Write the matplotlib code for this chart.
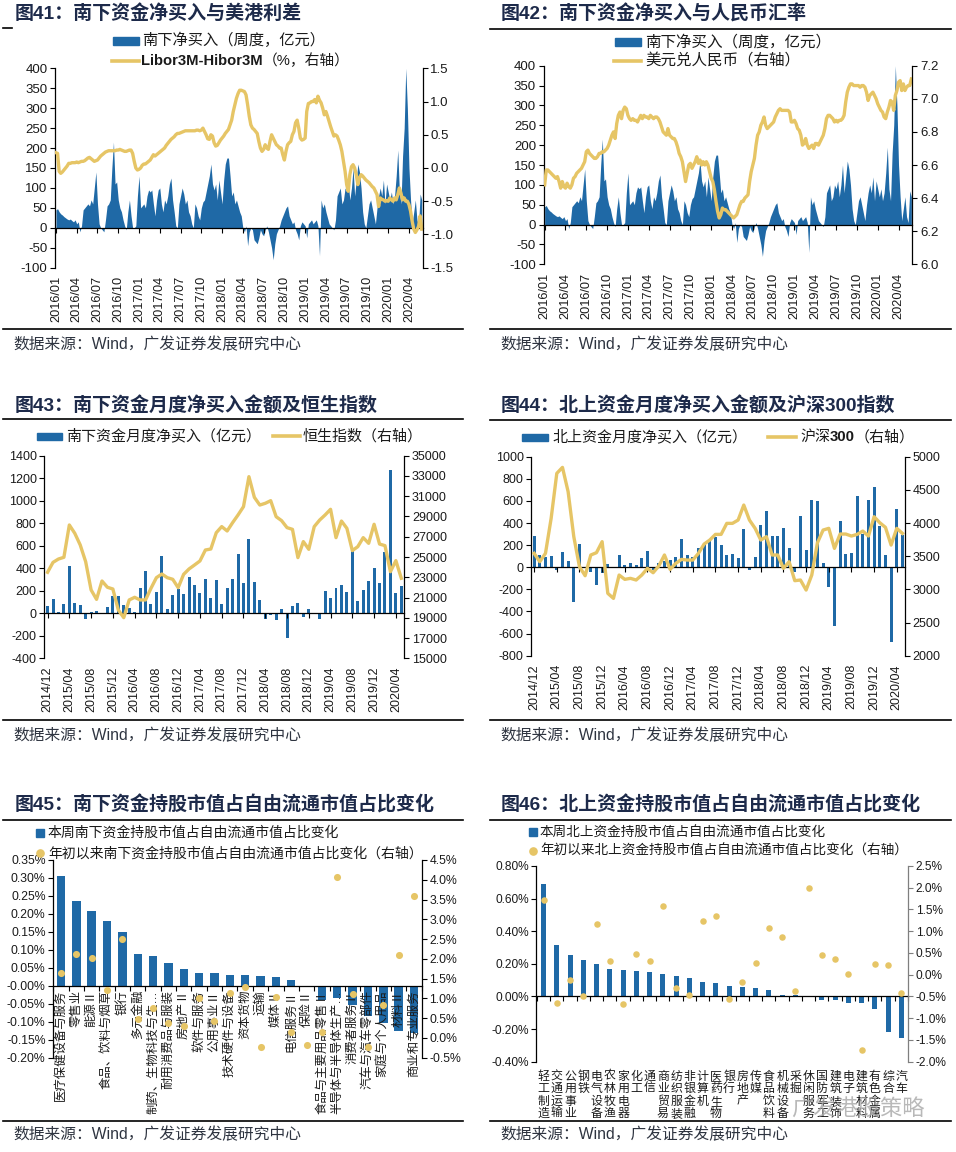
import numpy as np
import matplotlib
matplotlib.use("Agg")
import matplotlib.pyplot as plt
from matplotlib.lines import Line2D
from matplotlib.patches import Rectangle
from matplotlib.ticker import FormatStrFormatter, FuncFormatter

plt.rcParams["font.family"] = ["Liberation Sans", "Noto Sans CJK SC"]
plt.rcParams["axes.unicode_minus"] = False

W, H = 956, 1152
BLUE = "#1f69a6"
GOLD = "#e6c566"
NAVY = "#1d2a4a"
INK = "#1a1a1a"

# ---------------- data ----------------
# weekly southbound net buy (100m CNY), 2016/01 .. 2020/06
south_weekly = [
    45, 48, 40, 35, 32, 28, 25, 22, 20, 22, 18, 15, 20,
    10, 15, -10, 5, 45, 50, 55, 60, 55, 70, 60, 100, 140,
    60, 10, 0, -5, -10, 20, 55, 60, 70, 150, 215, 110, 115,
    70, 50, 40, 20, 5, -5, 40, 70, 30, 0, 0, 5, 80,
    130, 50, 55, 60, 50, 80, 95, 90, 95, 60, 30, 70, 95,
    100, 60, 40, 70, 60, 80, 110, 125, 70, 40, 5, 0, 60,
    80, 100, 85, 60, 70, 40, 30, 10, 0, 60, 50, 30, 20,
    50, 65, 70, 90, 110, 130, 160, 110, 95, 110, 70, 120, 90,
    60, 120, 160, 175, 175, 130, 80, 90, 60, 70, 55, 40, 30,
    0, -10, 5, -45, -10, 0, -5, -30, -35, -40, -25, -5, -15,
    -20, -5, 5, -10, -30, -50, -80, -40, -15, -5, 5, 20, 30,
    40, 50, 55, 30, 20, 10, 15, -5, -15, -30, 5, 15, 10,
    5, -25, 10, 15, 20, 10, 15, 20, 5, -70, 70, 50, 60,
    40, 25, 10, 5, 0, -5, 20, 80, 90, 100, 60, 70, 100,
    90, 110, 70, 100, 150, 80, 120, 160, 140, 100, 40, 10, 0,
    30, 60, 70, 50, 30, 10, 50, 80, 100, 80, 120, 60, 110,
    90, 70, 90, 60, 80, 130, 195, 90, 60, 180, 250, 400, 300,
    150, 70, 10, 40, 70, 20, 5, 85, 70,
]
# Libor3M - Hibor3M spread (%), weekly
libor_hibor = [
    0.23, 0.22, -0.05, -0.08, -0.06, -0.03, 0.00, 0.03, 0.07, 0.07, 0.08, 0.08, 0.08,
    0.09, 0.08, 0.09, 0.10, 0.10, 0.11, 0.13, 0.15, 0.16, 0.14, 0.12, 0.10, 0.11,
    0.12, 0.15, 0.18, 0.20, 0.22, 0.24, 0.25, 0.26, 0.26, 0.26, 0.26, 0.26, 0.27,
    0.27, 0.28, 0.27, 0.26, 0.25, 0.25, 0.26, 0.27, 0.27, 0.22, 0.10, 0.00, -0.03,
    -0.02, 0.00, 0.04, 0.06, 0.06, 0.08, 0.10, 0.12, 0.16, 0.20, 0.18, 0.20, 0.22,
    0.24, 0.26, 0.28, 0.30, 0.34, 0.37, 0.40, 0.43, 0.45, 0.47, 0.50, 0.52, 0.52,
    0.53, 0.54, 0.55, 0.56, 0.56, 0.56, 0.56, 0.56, 0.56, 0.56, 0.57, 0.57, 0.56,
    0.57, 0.60, 0.55, 0.50, 0.44, 0.43, 0.50, 0.48, 0.38, 0.33, 0.34, 0.38, 0.42,
    0.45, 0.48, 0.52, 0.55, 0.58, 0.65, 0.72, 0.85, 0.95, 1.05, 1.12, 1.17, 1.17,
    1.16, 1.15, 1.10, 0.95, 0.78, 0.65, 0.60, 0.58, 0.55, 0.52, 0.40, 0.30, 0.25,
    0.28, 0.35, 0.30, 0.28, 0.40, 0.50, 0.45, 0.40, 0.35, 0.33, 0.30, 0.30, 0.20,
    0.12, 0.25, 0.35, 0.38, 0.40, 0.50, 0.55, 0.68, 0.72, 0.60, 0.45, 0.42, 0.43,
    0.45, 0.85, 0.97, 0.98, 1.00, 1.00, 1.03, 0.98, 1.08, 1.02, 0.98, 0.90, 0.80,
    0.85, 0.78, 0.70, 0.62, 0.55, 0.48, 0.50, 0.48, 0.42, 0.35, 0.25, 0.10, -0.05,
    -0.25, -0.35, -0.10, 0.02, 0.05, 0.00, -0.10, -0.25, -0.15, -0.10, -0.12, -0.15, -0.18,
    -0.20, -0.22, -0.25, -0.28, -0.30, -0.35, -0.40, -0.58, -0.45, -0.47, -0.48, -0.50, -0.49,
    -0.50, -0.45, -0.48, -0.50, -0.45, -0.48, -0.40, -0.30, -0.38, -0.48, -0.45, -0.50, -0.50,
    -0.55, -0.65, -0.80, -0.92, -0.97, -0.93, -0.88, -0.72, -0.92,
]
# USD/CNY, weekly
usd_cny = [
    6.48, 6.57, 6.57, 6.56, 6.55, 6.54, 6.53, 6.52, 6.53, 6.50, 6.46, 6.50, 6.47,
    6.46, 6.49, 6.47, 6.46, 6.48, 6.52, 6.53, 6.55, 6.56, 6.57, 6.58, 6.60, 6.62,
    6.68, 6.69, 6.67, 6.66, 6.65, 6.64, 6.64, 6.65, 6.67, 6.67, 6.68, 6.68, 6.69,
    6.70, 6.72, 6.75, 6.78, 6.80, 6.76, 6.85, 6.90, 6.92, 6.88, 6.93, 6.95, 6.94,
    6.90, 6.88, 6.87, 6.88, 6.87, 6.87, 6.86, 6.88, 6.90, 6.88, 6.90, 6.89, 6.89,
    6.88, 6.90, 6.89, 6.88, 6.89, 6.89, 6.88, 6.86, 6.83, 6.80, 6.79, 6.78, 6.82,
    6.78, 6.77, 6.76, 6.76, 6.74, 6.71, 6.67, 6.65, 6.62, 6.56, 6.50, 6.55, 6.60,
    6.61, 6.58, 6.60, 6.62, 6.65, 6.61, 6.63, 6.60, 6.62, 6.60, 6.62, 6.60, 6.56,
    6.52, 6.50, 6.45, 6.38, 6.32, 6.28, 6.30, 6.34, 6.33, 6.33, 6.32, 6.31, 6.30,
    6.29, 6.28, 6.29, 6.30, 6.33, 6.36, 6.38, 6.38, 6.40, 6.41, 6.42, 6.50, 6.56,
    6.60, 6.64, 6.72, 6.78, 6.80, 6.84, 6.86, 6.89, 6.84, 6.82, 6.83, 6.84, 6.85,
    6.86, 6.89, 6.91, 6.93, 6.94, 6.93, 6.93, 6.93, 6.93, 6.93, 6.92, 6.86, 6.86,
    6.87, 6.85, 6.82, 6.81, 6.78, 6.72, 6.73, 6.76, 6.72, 6.70, 6.71, 6.72, 6.70,
    6.73, 6.73, 6.72, 6.74, 6.76, 6.78, 6.82, 6.88, 6.90, 6.90, 6.89, 6.88, 6.86,
    6.87, 6.86, 6.87, 6.87, 6.88, 6.90, 6.98, 7.04, 7.07, 7.09, 7.09, 7.08, 7.08,
    7.08, 7.08, 7.07, 7.08, 7.08, 7.07, 7.04, 6.99, 7.02, 7.03, 7.04, 7.02, 7.00,
    6.97, 6.95, 6.93, 6.92, 6.89, 6.88, 6.92, 6.95, 6.99, 6.98, 6.93, 7.02, 7.05,
    7.10, 7.11, 7.05, 7.09, 7.05, 7.07, 7.08, 7.08, 7.12,
]
week_labels = ["2016/01", "2016/04", "2016/07", "2016/10", "2017/01", "2017/04",
               "2017/07", "2017/10", "2018/01", "2018/04", "2018/07", "2018/10",
               "2019/01", "2019/04", "2019/07", "2019/10", "2020/01", "2020/04"]

# monthly, 2014/12 .. 2020/05
south_monthly = [65, 125, 15, 86, 420, 95, 71, -47, 15, 24,
                 0, 59, 154, 154, 71, 50, 15, 222, 376, 86,
                 193, 510, 36, 163, 219, 175, 326, 252, 184, 302,
                 139, 293, 80, 228, 302, 524, 273, 664, 281, 116,
                 -47, -15, -62, 41, -216, 65, 95, -30, 36, -9,
                 -53, 199, 133, 222, 249, 190, 554, 107, 204, 287,
                 400, 273, 545, 1271, 178, 243]
hsi = [23490, 24470, 24800, 24970, 28160, 27340, 26190, 24540, 21750, 20820,
       22630, 22010, 21840, 19770, 19010, 20760, 21020, 20760, 20760, 21910,
       22960, 23320, 22960, 22800, 21970, 23290, 23820, 24210, 24610, 25690,
       25790, 27400, 28000, 27570, 28390, 29150, 29970, 32930, 30890, 30130,
       30300, 30560, 28980, 28590, 27900, 27730, 24940, 26520, 25760, 28000,
       28650, 29150, 29710, 26910, 28550, 27830, 25630, 26020, 26910, 26350,
       28230, 26280, 26120, 23550, 24640, 22900]
north_monthly = [281, 112, 95, 100, -25, 139, 54, -311, 214, -10,
                 -45, -163, -51, 33, 5, 109, 24, 36, 21, 84,
                 151, -21, 39, 54, 69, 97, 259, 109, 94, 178,
                 220, 235, 278, 205, 112, 124, 84, 350, -27, 94,
                 383, 510, 287, 287, 353, 178, -40, 468, 160, 606,
                 603, 39, -181, -534, 422, 121, 133, 648, 300, 606,
                 730, 377, 112, -679, 531, 296]
csi300 = [3543, 3417, 3543, 4070, 4749, 4839, 4472, 3794, 3342, 3206,
          3518, 3553, 3719, 2940, 2864, 3216, 3151, 3166, 3141, 3216,
          3317, 3251, 3352, 3518, 3301, 3392, 3452, 3442, 3442, 3543,
          3683, 3744, 3829, 3829, 3995, 3995, 4045, 4271, 4045, 3920,
          3744, 3794, 3518, 3518, 3317, 3417, 3131, 3141, 2990, 3216,
          3703, 3894, 3920, 3618, 3834, 3834, 3804, 3829, 3879, 3804,
          4095, 4005, 3935, 3668, 3920, 3844]
month_labels = ["2014/12", "2015/04", "2015/08", "2015/12", "2016/04", "2016/08",
                "2016/12", "2017/04", "2017/08", "2017/12", "2018/04", "2018/08",
                "2018/12", "2019/04", "2019/08", "2019/12", "2020/04"]

# HK industries: southbound holding share change (%)
hk_inds = ["医疗保健设备与服务", "零售业", "能源Ⅱ", "食品、饮料与烟草", "银行", "多元金融",
           "制药、生物科技与生…", "耐用消费品与服装", "房地产Ⅱ", "软件与服务", "公用事业Ⅱ",
           "技术硬件与设备", "资本货物", "运输", "媒体Ⅱ", "电信服务Ⅱ", "保险Ⅱ",
           "食品与主要用品零售Ⅱ", "半导体与半导体生产…", "消费者服务Ⅱ", "汽车与汽车零部件",
           "家庭与个人用品", "材料Ⅱ", "商业和专业服务"]
hk_week = [0.306, 0.235, 0.208, 0.180, 0.149, 0.088, 0.082, 0.064, 0.046, 0.037, 0.037,
           0.030, 0.029, 0.027, 0.025, 0.016, -0.003, -0.039, -0.034, -0.053, -0.083,
           -0.104, -0.125, -0.131]
hk_ytd = [1.64, 2.12, 2.01, 1.21, 2.49, 0.49, 0.76, 0.38, 0.30, 1.02, 0.42, 1.14, 1.30,
          -0.22, 1.04, 0.15, -0.18, 0.15, 4.08, 1.11, -0.24, 0.84, 2.10, 3.58]

# A-share industries: northbound holding share change (%)
a_inds = ["轻工制造", "交通运输", "公用事业", "钢铁", "电气设备", "农林牧渔", "家用电器",
          "化工", "通信", "商业贸易", "纺织服装", "非银金融", "计算机", "医药生物", "银行",
          "房地产", "传媒", "食品饮料", "机械设备", "采掘", "休闲服务", "国防军工",
          "建筑装饰", "电子", "建筑材料", "有色金属", "综合", "汽车"]
a_week = [0.692, 0.317, 0.254, 0.222, 0.199, 0.167, 0.165, 0.159, 0.153, 0.138, 0.126,
          0.116, 0.088, 0.083, 0.067, 0.057, 0.051, 0.041, 0.012, 0.006, 0.005, -0.020,
          -0.020, -0.039, -0.039, -0.075, -0.220, -0.255]
a_ytd = [1.72, -0.64, -0.11, -0.48, 1.17, 0.32, -0.68, 0.48, 0.32, 1.59, -0.30, -0.46,
         1.23, 1.34, -0.55, -0.17, 0.26, 1.08, 0.86, -0.375, 1.99, 0.45, 0.37, 0.02,
         -1.74, 0.24, 0.23, -0.41]

# ---------------- helpers ----------------
fig = plt.figure(figsize=(W / 100, H / 100), dpi=100)
REND = fig.canvas.get_renderer()


def box(l, t, r, b):
    return fig.add_axes([l / W, 1 - b / H, (r - l) / W, (b - t) / H])


def hline(x0, x1, y, lw=1.2, color="black"):
    fig.add_artist(Line2D([x0 / W, x1 / W], [1 - y / H, 1 - y / H], color=color, lw=lw,
                          transform=fig.transFigure))


def runs(x, y, parts, size, color=INK):
    # consecutive pieces of text with their own weight
    for s, wt in parts:
        t = fig.text(x / W, 1 - y / H, s, fontsize=size, fontweight=wt, color=color,
                     ha="left", va="center")
        x += t.get_window_extent(REND).width


def key_bar(x0, x1, y, h=8):
    fig.add_artist(Rectangle((x0 / W, 1 - (y + h / 2) / H), (x1 - x0) / W, h / H,
                             color=BLUE, transform=fig.transFigure))


def key_line(x0, x1, y):
    fig.add_artist(Line2D([x0 / W, x1 / W], [1 - y / H] * 2, color=GOLD, lw=2.6,
                          transform=fig.transFigure))


def key_marker(x, y, marker, color, ms):
    fig.add_artist(Line2D([x / W], [1 - y / H], marker=marker, color=color, ms=ms, lw=0,
                          transform=fig.transFigure))


def frame(left, y_title, y_top, y_bot, y_src, title, short_top=False):
    x0, x1 = (3, 463) if left else (490, 951)
    tx = 15 if left else 501
    fig.text(tx / W, 1 - y_title / H, title, fontsize=13.7, fontweight="bold", color=NAVY,
             ha="left", va="center")
    if short_top:
        hline(3, 12, y_top)
    else:
        hline(x0, x1, y_top)
    hline(x0, x1, y_bot)
    sx = 13 if left else 500
    runs(sx, y_src, [("数据来源：Wind，广发证券发展研究中心", "normal")], 11.3, color="#2e3440")


def dress(ax, ax2, size, right_color="black"):
    for s in ("top", "right"):
        ax.spines[s].set_visible(False)
    for s in ("top", "left", "bottom"):
        ax2.spines[s].set_visible(False)
    ax2.spines["right"].set_color(right_color)
    ax.spines["bottom"].set_position(("data", 0))
    for a in (ax, ax2):
        a.set_facecolor("none")
        a.tick_params(axis="y", direction="out", length=3.5, width=0.8, labelsize=size,
                      pad=2, labelcolor=INK)
    ax2.tick_params(axis="y", color=right_color)
    ax.spines["left"].set_linewidth(0.9)
    ax.spines["bottom"].set_linewidth(0.9)
    ax2.spines["right"].set_linewidth(0.9)


def low_labels(ax, ticks, labels, size, pad, rot=90, **kw):
    sec = ax.secondary_xaxis("bottom")
    sec.set_xticks(ticks, labels=labels, rotation=rot, fontsize=size, color=INK, **kw)
    sec.tick_params(length=0, pad=pad)
    sec.spines["bottom"].set_visible(False)
    return sec


# ---------------- 图41 ----------------
wk = np.arange(len(south_weekly))
wk_ticks = np.arange(len(week_labels)) * 13

frame(True, 14, 28, 329, 345, "图41：南下资金净买入与美港利差", short_top=True)
ax = box(55, 68.3, 422.7, 267.7)
ax.fill_between(wk, 0, south_weekly, color=BLUE, lw=0)
ax.set_xlim(-0.6, len(wk) - 0.4)
ax.set_ylim(-100, 400)
ax.set_yticks(np.arange(-100, 401, 50))
ax2 = ax.twinx()
ax2.plot(wk, libor_hibor, color=GOLD, lw=2.4, solid_joinstyle="round")
ax2.set_ylim(-1.5, 1.5)
ax2.set_yticks(np.arange(-1.5, 1.51, 0.5))
ax2.yaxis.set_major_formatter(FormatStrFormatter("%.1f"))
dress(ax, ax2, 9.5)
ax.set_xticks(wk_ticks)
ax.tick_params(axis="x", direction="out", length=3.5, width=0.8, labelbottom=False)
low_labels(ax, wk_ticks, week_labels, 9.2, 6)
key_bar(113, 139, 40.5)
runs(142, 40.5, [("南下净买入（周度，亿元）", "normal")], 11)
key_line(112, 139, 61)
runs(141, 61, [("Libor3M-Hibor3M", "bold"), ("（%，右轴）", "normal")], 10.6)

# ---------------- 图42 ----------------
frame(False, 14, 28.7, 329, 345, "图42：南下资金净买入与人民币汇率")
ax = box(543.7, 65.7, 912.3, 264.3)
ax.fill_between(wk, 0, south_weekly, color=BLUE, lw=0)
ax.set_xlim(-0.6, len(wk) - 0.4)
ax.set_ylim(-100, 400)
ax.set_yticks(np.arange(-100, 401, 50))
ax2 = ax.twinx()
ax2.plot(wk, usd_cny, color=GOLD, lw=2.4, solid_joinstyle="round")
ax2.set_ylim(6.0, 7.2)
ax2.set_yticks(np.arange(6.0, 7.21, 0.2))
ax2.yaxis.set_major_formatter(FormatStrFormatter("%.1f"))
dress(ax, ax2, 9.5)
ax.set_xticks(wk_ticks)
ax.tick_params(axis="x", direction="out", length=3.5, width=0.8, labelbottom=False)
low_labels(ax, wk_ticks, week_labels, 9.2, 6)
key_bar(615, 641, 42)
runs(645, 42, [("南下净买入（周度，亿元）", "normal")], 11.2)
key_line(614, 641, 61)
runs(645, 61, [("美元兑人民币（右轴）", "normal")], 11.2)

# ---------------- 图43 ----------------
mo = np.arange(len(south_monthly))
mo_ticks = np.arange(len(month_labels)) * 4

frame(True, 405, 419.3, 720, 736, "图43：南下资金月度净买入金额及恒生指数")
ax = box(44.3, 455.7, 404.3, 658.3)
ax.bar(mo, south_monthly, width=0.55, color=BLUE, lw=0)
ax.set_xlim(-0.6, len(mo) - 0.45)
ax.set_ylim(-400, 1400)
ax.set_yticks(np.arange(-400, 1401, 200))
ax2 = ax.twinx()
ax2.plot(mo, hsi, color=GOLD, lw=2.4, solid_joinstyle="round")
ax2.set_ylim(15000, 35000)
ax2.set_yticks(np.arange(15000, 35001, 2000))
dress(ax, ax2, 9)
ax.set_xticks(mo_ticks)
ax.tick_params(axis="x", direction="out", length=3.5, width=0.8, labelbottom=False)
low_labels(ax, mo_ticks, month_labels, 9, 6)
key_bar(37, 62, 436, h=7)
runs(66, 436, [("南下资金月度净买入（亿元）", "normal")], 10.8)
key_line(273, 300, 436)
runs(303, 436, [("恒生指数（右轴）", "normal")], 10.8)

# ---------------- 图44 ----------------
frame(False, 405, 419.7, 720, 736, "图44：北上资金月度净买入金额及沪深300指数")
ax = box(531.3, 456.7, 904.7, 655.7)
ax.bar(mo, north_monthly, width=0.55, color=BLUE, lw=0)
ax.set_xlim(-0.5, len(mo) - 0.6)
ax.set_ylim(-800, 1000)
ax.set_yticks(np.arange(-800, 1001, 200))
ax2 = ax.twinx()
ax2.plot(mo, csi300, color=GOLD, lw=2.4, solid_joinstyle="round")
ax2.set_ylim(2000, 5000)
ax2.set_yticks(np.arange(2000, 5001, 500))
dress(ax, ax2, 9)
ax.set_xticks(mo_ticks)
ax.tick_params(axis="x", direction="out", length=3.5, width=0.8, labelbottom=False)
low_labels(ax, mo_ticks, month_labels, 9, 6)
key_bar(522, 548, 437, h=7)
runs(552, 437, [("北上资金月度净买入（亿元）", "normal")], 10.8)
key_line(768, 796, 437)
runs(800, 437, [("沪深", "normal"), ("300", "bold"), ("（右轴）", "normal")], 10.8)

# ---------------- 图45 ----------------
pct2 = FuncFormatter(lambda v, p: f"{v:.2f}%")
pct1 = FuncFormatter(lambda v, p: f"{v:.1f}%")

frame(True, 805, 820, 1121, 1135, "图45：南下资金持股市值占自由流通市值占比变化")
hx = np.arange(len(hk_inds))
ax = box(53.3, 860, 421.7, 1057.7)
ax.bar(hx, hk_week, width=0.55, color=BLUE, lw=0)
ax.set_xlim(-0.5, len(hx) - 0.5)
ax.set_ylim(-0.20, 0.35)
ax.set_yticks(np.arange(-0.20, 0.351, 0.05))
ax.yaxis.set_major_formatter(pct2)
ax2 = ax.twinx()
ax2.scatter(hx, hk_ytd, s=26, color=GOLD, lw=0, zorder=3)
ax2.set_ylim(-0.5, 4.5)
ax2.set_yticks(np.arange(-0.5, 4.51, 0.5))
ax2.yaxis.set_major_formatter(pct1)
dress(ax, ax2, 8.8)
ax.set_xticks(hx, labels=hk_inds, rotation=90, fontsize=8.9, color=INK)
ax.set_xticks(np.arange(-0.5, len(hx)), minor=True)
ax.tick_params(axis="x", which="major", length=0, pad=3)
ax.tick_params(axis="x", which="minor", direction="out", length=3.5, width=0.8)
key_marker(40, 832.7, "s", BLUE, 5.2)
runs(48, 832.7, [("本周南下资金持股市值占自由流通市值占比变化", "normal")], 10)
key_marker(40, 853.3, "o", GOLD, 5.2)
runs(48, 853.3, [("年初以来南下资金持股市值占自由流通市值占比变化（右轴）", "normal")], 10)

# ---------------- 图46 ----------------
frame(False, 805, 820, 1121, 1135, "图46：北上资金持股市值占自由流通市值占比变化")
axx = np.arange(len(a_inds))
ax = box(536.3, 866, 908, 1061.7)
ax.bar(axx, a_week, width=0.38, color=BLUE, lw=0)
ax.set_xlim(-0.55, len(axx) - 0.5)
ax.set_ylim(-0.40, 0.80)
ax.set_yticks(np.arange(-0.40, 0.801, 0.20))
ax.yaxis.set_major_formatter(pct2)
ax2 = ax.twinx()
ax2.scatter(axx, a_ytd, s=22, color=GOLD, lw=0, zorder=3)
ax2.set_ylim(-2.0, 2.5)
ax2.set_yticks(np.arange(-2.0, 2.51, 0.5))
ax2.yaxis.set_major_formatter(pct1)
dress(ax, ax2, 8.6, right_color="#7f7f7f")
ax.set_xticks(np.arange(-0.5, len(axx)))
ax.tick_params(axis="x", direction="out", length=3.5, width=0.8, labelbottom=False)
low_labels(ax, axx, ["\n".join(s) for s in a_inds], 8.6, 6.5, rot=0, linespacing=1.05)
key_marker(533, 832.3, "s", BLUE, 5.2)
runs(540, 832.3, [("本周北上资金持股市值占自由流通市值占比变化", "normal")], 9.8)
key_marker(533, 851, "o", GOLD, 5.2)
runs(540, 851, [("年初以来北上资金持股市值占自由流通市值占比变化（右轴）", "normal")], 9.8)

# watermark left on the source picture
fig.text(858 / W, 1 - 1110 / H, "广发港股策略", fontsize=16, color="#a8a8a8", alpha=0.8,
         ha="center", va="center")

fig.savefig("out.png", dpi=100)
